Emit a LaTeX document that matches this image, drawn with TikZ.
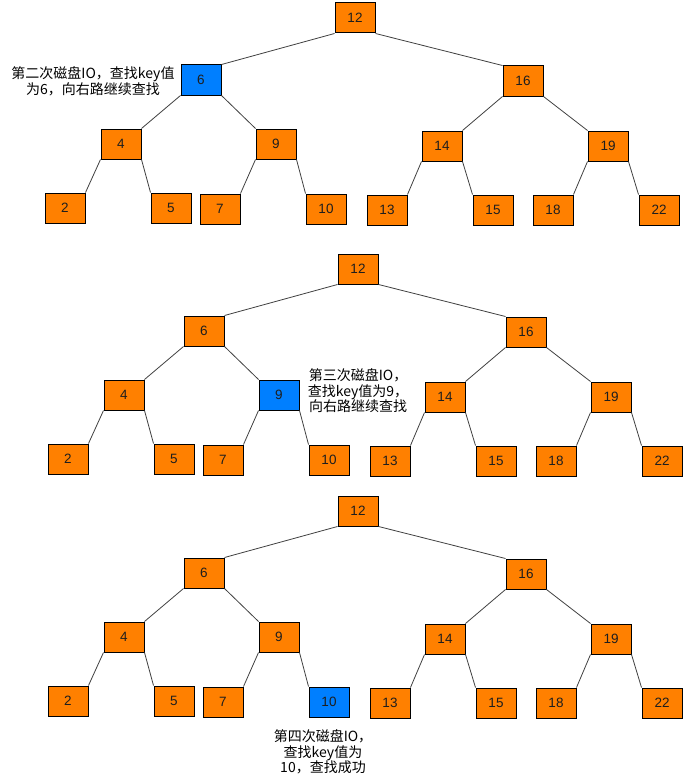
\documentclass[tikz,border=0pt]{standalone}
\usepackage{fontspec}
\setmainfont{Liberation Sans}
\newfontfamily\cjk{Noto Sans CJK SC}
\definecolor{nodeor}{RGB}{255,128,0}
\definecolor{nodebl}{RGB}{0,127,255}
\definecolor{numtxt}{RGB}{30,30,30}
\begin{document}
\begin{tikzpicture}[x=1pt,y=-1pt,
  box/.style={draw=black, line width=1pt, fill=nodeor, text=numtxt,
    minimum width=40pt, minimum height=30pt, inner sep=0pt,
    font=\fontsize{13.5}{15}\selectfont},
  hit/.style={fill=nodebl},
  link/.style={draw=black!75, line width=0.8pt},
  note/.style={align=center, inner sep=0pt, text=black,
    font=\cjk\fontsize{14}{15.6}\selectfont},
  k12/.style={},k6/.style={},k16/.style={},k4/.style={},k9/.style={},
  k14/.style={},k19/.style={},k2/.style={},k5/.style={},k7/.style={},
  k10/.style={},k13/.style={},k15/.style={},k18/.style={},k22/.style={}]
\useasboundingbox (0,0) rectangle (694,784);
\foreach \p/\dx/\dy/\h in {a/0/0/6, b/3/251/9, c/3/493/10}{
  \tikzset{k\h/.style={hit}}
  \begin{scope}[shift={(\dx,\dy)}]
    \foreach \n/\x/\y in {12/355/18, 6/201/80, 16/523/81, 4/121/144, 9/276/144,
      14/442/146, 19/608/146, 2/65/208, 5/171/208, 7/220/209, 10/326/209,
      13/387/210, 15/493/210, 18/553/210, 22/659/210}{
      \node[box, k\n] (\p\n) at (\x,\y) {\n};
    }
  \end{scope}
  \foreach \u/\v in {12/6, 6/4, 16/14, 4/2, 9/7, 14/13, 19/18}{
    \draw[link] (\p\u.south west) -- (\p\v.north east);
  }
  \foreach \u/\v in {12/16, 6/9, 16/19, 4/5, 9/10, 14/15, 19/22}{
    \draw[link] (\p\u.south east) -- (\p\v.north west);
  }
}
\node[note] (noteA) at (93,81) {第二次磁盘IO，查找key值\\为6，向右路继续查找};
\node[note] (noteB) at (358,391) {第三次磁盘IO，\\查找key值为9，\\向右路继续查找};
\node[note] (noteC) at (323,752) {第四次磁盘IO，\\查找key值为\\10，查找成功};
\end{tikzpicture}
\end{document}
